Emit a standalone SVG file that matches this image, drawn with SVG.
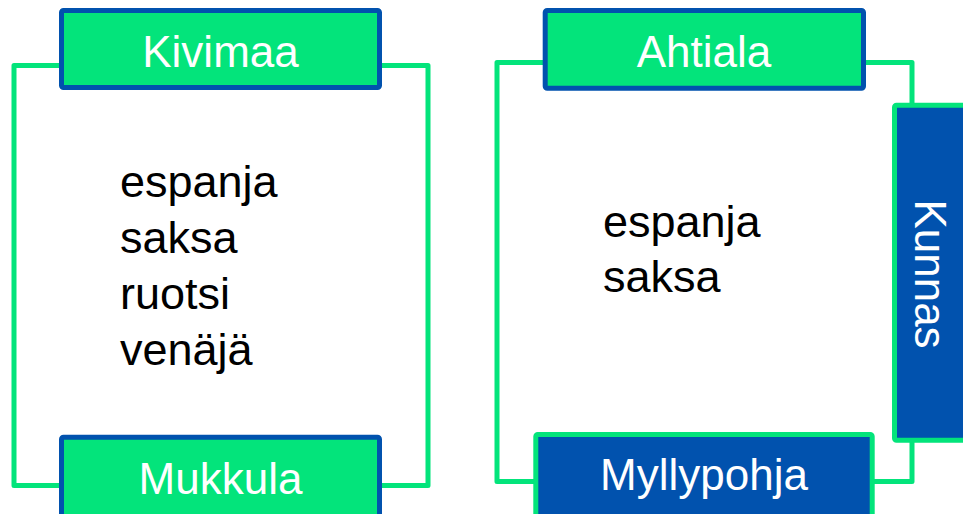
<svg xmlns="http://www.w3.org/2000/svg" width="963" height="514" viewBox="0 0 963 514">
  <style>
    .frame { fill: none; stroke: #03E47B; stroke-width: 5; stroke-linejoin: round; }
    .gbox { fill: #03E47B; stroke: #0152AE; stroke-width: 5; stroke-linejoin: round; }
    .bbox { fill: #0152AE; stroke: #03E47B; stroke-width: 5; stroke-linejoin: round; }
    .lbl { font-family: "Liberation Sans", Arial, sans-serif; font-size: 44px; fill: #FFFFFF; text-anchor: middle; }
    .body { font-family: "Liberation Sans", Arial, sans-serif; font-size: 45px; fill: #000000; }
  </style>
  <rect width="963" height="514" fill="#FFFFFF"/>
  <g id="connectors">
    <rect class="frame" x="14" y="65.5" width="414" height="420"/>
    <rect class="frame" x="497" y="62.5" width="415" height="419"/>
  </g>
  <g id="left-text">
    <text class="body" x="120" y="197">espanja</text>
    <text class="body" x="120" y="253">saksa</text>
    <text class="body" x="120" y="309">ruotsi</text>
    <text class="body" x="120" y="365">venäjä</text>
  </g>
  <g id="right-text">
    <text class="body" x="603" y="237">espanja</text>
    <text class="body" x="603" y="292">saksa</text>
  </g>
  <g id="kivimaa">
    <rect class="gbox" x="61.5" y="10.5" width="318" height="77" rx="2"/>
    <text class="lbl" x="220.5" y="67">Kivimaa</text>
  </g>
  <g id="mukkula">
    <rect class="gbox" x="61.5" y="437.2" width="318" height="82" rx="2"/>
    <text class="lbl" x="220.5" y="494">Mukkula</text>
  </g>
  <g id="ahtiala">
    <rect class="gbox" x="545.2" y="10.5" width="318.3" height="77.7" rx="2"/>
    <text class="lbl" x="704" y="67">Ahtiala</text>
  </g>
  <g id="myllypohja">
    <rect class="bbox" x="535.8" y="434.5" width="336.4" height="84" rx="2"/>
    <text class="lbl" x="704" y="490">Myllypohja</text>
  </g>
  <g id="kunnas">
    <rect class="bbox" x="894.5" y="105.2" width="80" height="335" rx="2"/>
    <text class="lbl" transform="translate(915,274) rotate(90)" x="0" y="0">Kunnas</text>
  </g>
</svg>
